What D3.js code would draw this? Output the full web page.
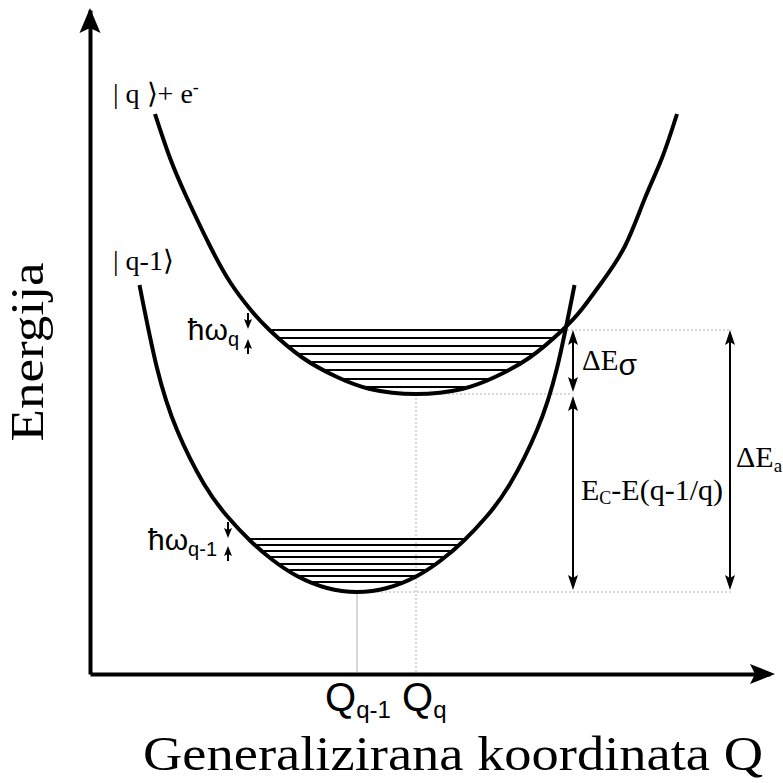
<!DOCTYPE html>
<html>
<head>
<meta charset="utf-8">
<script src="https://cdn.jsdelivr.net/npm/d3@7"></script>
<style>
  body { margin: 0; background: #fff; }
  .serif { font-family: "Liberation Serif", "Times New Roman", serif; }
  .sans { font-family: "Liberation Sans", Arial, sans-serif; }
</style>
</head>
<body>
<svg id="chart"></svg>
<script>
// Q = generalised coordinate, E = energy (arbitrary units)
const upperQ = [65, 80, 97, 120, 140, 160, 180, 213, 247, 280, 326, 372, 405, 439, 472, 492, 512, 535, 555, 572, 587];
const upperE = [560, 516, 476, 428, 392, 365, 343.5, 316, 297, 285, 280, 285, 297, 316, 343.5, 365, 392, 428, 476, 516, 560];
const lowerQ = [49.5, 67, 87, 114, 137, 160, 182, 207, 237, 267, 297, 327, 352, 374, 397, 420, 447, 467, 484.5];
const lowerE = [389, 306, 244, 190, 158, 133.5, 114.5, 98, 86, 82, 86, 98, 114.5, 133.5, 158, 190, 244, 306, 389];

const upperLevels = [344, 336, 328, 320, 312, 304, 295, 287];
const lowerLevels = [135, 129, 123, 117, 110, 104, 98, 92];

const crossE = 344;      // crossing of the two curves
const upperMinE = 280;
const lowerMinE = 82;
const upperMinQ = 326;
const lowerMinQ = 267;
const gapQ = 483;        // ΔEσ and E_C arrows
const actQ = 640;        // ΔEa arrow
const guideEndQ = 642;

const W = 783, H = 783;

const svg = d3.select("svg#chart").attr("width", W).attr("height", H);

const x = d3.scaleLinear().domain([0, 680]).range([90, 770]);
const y = d3.scaleLinear().domain([0, 664]).range([674, 10]);

// axes without ticks
svg.append("g")
    .attr("transform", `translate(0,${y(0)})`)
    .call(d3.axisBottom(x).tickValues([]).tickSizeOuter(0))
    .call((g) => g.select(".domain").attr("stroke", "#000").attr("stroke-width", 4));
svg.append("g")
    .attr("transform", `translate(${x(0)},0)`)
    .call(d3.axisLeft(y).tickValues([]).tickSizeOuter(0))
    .call((g) => g.select(".domain").attr("stroke", "#000").attr("stroke-width", 4));

function head(px, py, dir, len, wid) {
    // filled, slightly notched arrow head with its tip at (px, py)
    let p;
    if (dir == "up") p = [[px, py], [px - wid / 2, py + len], [px, py + len * 0.8], [px + wid / 2, py + len]];
    if (dir == "down") p = [[px, py], [px - wid / 2, py - len], [px, py - len * 0.8], [px + wid / 2, py - len]];
    if (dir == "right") p = [[px, py], [px - len, py - wid / 2], [px - len * 0.8, py], [px - len, py + wid / 2]];
    svg.append("path").attr("d", "M" + p.join("L") + "Z").attr("fill", "#000");
}

head(x(0), y(666), "up", 25, 21);
head(x(685), y(0), "right", 25, 20);

// guide lines
const guides = svg.append("g").attr("fill", "none").attr("stroke", "#b0b0b0").attr("stroke-width", 1);
guides.append("line")
    .attr("x1", x(473)).attr("x2", x(guideEndQ)).attr("y1", y(crossE)).attr("y2", y(crossE))
    .attr("stroke-dasharray", "2,2");
guides.append("line")
    .attr("x1", x(upperMinQ)).attr("x2", x(gapQ)).attr("y1", y(upperMinE)).attr("y2", y(upperMinE))
    .attr("stroke-dasharray", "2,2");
guides.append("line")
    .attr("x1", x(lowerMinQ)).attr("x2", x(guideEndQ)).attr("y1", y(lowerMinE)).attr("y2", y(lowerMinE))
    .attr("stroke-dasharray", "2,2");
guides.append("line")
    .attr("x1", x(upperMinQ)).attr("x2", x(upperMinQ)).attr("y1", y(upperMinE)).attr("y2", y(0) - 2)
    .attr("stroke-dasharray", "2,2");
guides.append("line")
    .attr("x1", x(lowerMinQ)).attr("x2", x(lowerMinQ)).attr("y1", y(lowerMinE)).attr("y2", y(0) - 2);

// potential curves
const line = d3.line().x((d) => x(d[0])).y((d) => y(d[1])).curve(d3.curveNatural);
const upperPath = svg.append("path")
    .datum(d3.zip(upperQ, upperE))
    .attr("d", line).attr("fill", "none").attr("stroke", "#000").attr("stroke-width", 4);
const lowerPath = svg.append("path")
    .datum(d3.zip(lowerQ, lowerE))
    .attr("d", line).attr("fill", "none").attr("stroke", "#000").attr("stroke-width", 4);

function crossings(node, yPix) {
    const L = node.getTotalLength();
    const pts = d3.range(0, L, 0.5).map((l) => node.getPointAtLength(l));
    const xs = [];
    for (let i = 1; i < pts.length; i++) {
        let a = pts[i - 1], b = pts[i];
        if ((a.y - yPix) * (b.y - yPix) <= 0 && a.y != b.y) {
            xs.push(a.x + ((yPix - a.y) / (b.y - a.y)) * (b.x - a.x));
        }
    }
    return [d3.min(xs), d3.max(xs)];
}

// vibrational levels
function levels(node, list) {
    svg.append("g")
        .selectAll("line")
        .data(list)
        .enter()
        .append("line")
        .each(function (d) {
            let [x1, x2] = crossings(node, y(d));
            d3.select(this).attr("x1", x1).attr("x2", x2);
        })
        .attr("y1", (d) => y(d))
        .attr("y2", (d) => y(d))
        .attr("stroke", "#000")
        .attr("stroke-width", 2);
}
levels(upperPath.node(), upperLevels);
levels(lowerPath.node(), lowerLevels);

// double arrows
function dimArrow(q, e1, e2) {
    let top = y(e1), bot = y(e2);
    svg.append("line")
        .attr("x1", x(q)).attr("x2", x(q)).attr("y1", top + 10).attr("y2", bot - 10)
        .attr("stroke", "#000").attr("stroke-width", 2);
    head(x(q), top, "up", 15, 10);
    head(x(q), bot, "down", 15, 10);
}
dimArrow(gapQ, crossE, upperMinE + 2);
dimArrow(gapQ, upperMinE - 2, lowerMinE + 2);
dimArrow(actQ, crossE, lowerMinE + 2);

// small hbar-omega arrows pointing at the spacing of the first two levels
function quantum(q, levelsList) {
    let a = y(levelsList[0]), b = y(levelsList[1]);
    svg.append("line").attr("x1", x(q)).attr("x2", x(q)).attr("y1", a - 17).attr("y2", a - 7)
        .attr("stroke", "#000").attr("stroke-width", 2);
    head(x(q), a - 1, "down", 10, 8);
    svg.append("line").attr("x1", x(q)).attr("x2", x(q)).attr("y1", b + 16).attr("y2", b + 7)
        .attr("stroke", "#000").attr("stroke-width", 2);
    head(x(q), b + 1, "up", 10, 8);
}
quantum(158, upperLevels);
quantum(138, lowerLevels);

// texts
function label(cls, px, py, size, anchor) {
    return svg.append("text").attr("class", cls).attr("x", px).attr("y", py)
        .attr("font-size", size).attr("text-anchor", anchor || "start");
}

let t = label("serif", x(23), y(571), 28);
t.append("tspan").text("| q ⟩+ e");
t.append("tspan").attr("font-size", 18).attr("dy", -10).text("-");

label("serif", x(23), y(404), 28).text("| q-1⟩");

t = label("sans", x(149), y(334), 30, "end");
t.append("tspan").text("ħω");
t.append("tspan").attr("font-size", 20).attr("dy", 6).text("q");

t = label("sans", x(127), y(124), 30, "end");
t.append("tspan").text("ħω");
t.append("tspan").attr("font-size", 20).attr("dy", 6).text("q-1");

t = label("serif", x(492), y(304), 29);
t.append("tspan").text("ΔE");
t.append("tspan").attr("class", "sans").attr("font-size", 30).attr("dy", 5).text("σ");

t = label("serif", x(491), y(174), 30);
t.append("tspan").text("E");
t.append("tspan").attr("font-size", 18).attr("dy", 4).text("C");
t.append("tspan").attr("dy", -4).text("-E(q-1/q)");

t = label("serif", x(646), y(207), 30);
t.append("tspan").text("ΔE");
t.append("tspan").attr("font-size", 19).attr("dy", 5).text("a");

t = label("sans", x(lowerMinQ) + 1, 711, 40, "middle");
t.append("tspan").text("Q");
t.append("tspan").attr("font-size", 24).attr("dy", 7).text("q-1");

t = label("sans", x(upperMinQ) - 14, 711, 40);
t.append("tspan").text("Q");
t.append("tspan").attr("font-size", 24).attr("dy", 7).text("q");

label("serif", 453, 770, 48, "middle")
    .attr("textLength", 620).attr("lengthAdjust", "spacingAndGlyphs")
    .text("Generalizirana koordinata Q");

svg.append("text").attr("class", "serif")
    .attr("transform", "translate(43,352) rotate(-90)")
    .attr("text-anchor", "middle").attr("font-size", 46)
    .attr("textLength", 179).attr("lengthAdjust", "spacingAndGlyphs")
    .text("Energija");
</script>
</body>
</html>
